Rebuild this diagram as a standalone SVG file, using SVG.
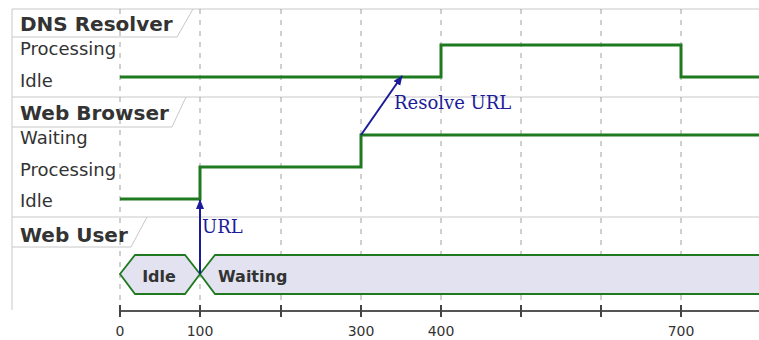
<svg xmlns="http://www.w3.org/2000/svg" width="759" height="340" viewBox="0 0 759 340">
<style>
.grid{stroke:#c8c8c8;stroke-width:1;fill:none}
.dash{stroke:#a0a0a0;stroke-width:1;stroke-dasharray:5,6;fill:none}
.hdr{font-family:"DejaVu Sans",sans-serif;font-weight:bold;font-size:20px;fill:#333}
.lbl{font-family:"DejaVu Sans",sans-serif;font-size:18px;fill:#333}
.sig{stroke:#1f7a1f;stroke-width:3;fill:none}
.hex{fill:#e2e2f0;stroke:#1f7a1f;stroke-width:1.8}
.hext{font-family:"DejaVu Sans",sans-serif;font-weight:bold;font-size:16px;fill:#333}
.msg{stroke:#1c1c99;stroke-width:2;fill:none}
.msgt{font-family:"DejaVu Serif",serif;font-size:18px;fill:#1c1c99}
.ax{font-family:"DejaVu Sans",sans-serif;font-size:14px;fill:#333}
</style>
<defs>
<marker id="ah" markerWidth="10" markerHeight="10" refX="9" refY="5" orient="auto" markerUnits="userSpaceOnUse">
<path d="M0,1 L10,5 L0,9 Z" fill="#1c1c99"/>
</marker>
</defs>
<g id="frame">
<line class="grid" x1="12" y1="9" x2="759" y2="9"/>
<line class="grid" x1="12" y1="97" x2="759" y2="97"/>
<line class="grid" x1="12" y1="217" x2="759" y2="217"/>
<line class="grid" x1="12" y1="9" x2="12" y2="310"/>
</g>
<g id="gridlines">
<line class="dash" x1="120" y1="9" x2="120" y2="305"/>
<line class="dash" x1="200" y1="9" x2="200" y2="305"/>
<line class="dash" x1="281" y1="9" x2="281" y2="305"/>
<line class="dash" x1="361" y1="9" x2="361" y2="305"/>
<line class="dash" x1="441" y1="9" x2="441" y2="305"/>
<line class="dash" x1="521" y1="9" x2="521" y2="305"/>
<line class="dash" x1="601" y1="9" x2="601" y2="305"/>
<line class="dash" x1="681" y1="9" x2="681" y2="305"/>
</g>
<g id="dns-resolver">
<polyline class="grid" points="12,37 177,37 193,9"/>
<text class="hdr" x="20" y="31">DNS Resolver</text>
<text class="lbl" x="20" y="55">Processing</text>
<text class="lbl" x="20" y="87">Idle</text>
<polyline class="sig" points="120,77 441,77 441,45 681,45 681,77 759,77"/>
</g>
<g id="web-browser">
<polyline class="grid" points="12,127 172,127 186,97"/>
<text class="hdr" x="20" y="120">Web Browser</text>
<text class="lbl" x="20" y="144">Waiting</text>
<text class="lbl" x="20" y="176">Processing</text>
<text class="lbl" x="20" y="207">Idle</text>
<polyline class="sig" points="120,199 200,199 200,167 361,167 361,135 759,135"/>
</g>
<g id="web-user">
<polyline class="grid" points="12,247 131,247 147,217"/>
<text class="hdr" x="20" y="242">Web User</text>
<polygon class="hex" points="120,274 135,255 185,255 200,274 185,294 135,294"/>
<text class="hext" x="159" y="282" text-anchor="middle">Idle</text>
<polygon class="hex" points="200,274 215,255 762,255 762,294 215,294"/>
<text class="hext" x="218" y="282">Waiting</text>
</g>
<g id="connectors">
<line class="msg" x1="200" y1="274" x2="200" y2="200" marker-end="url(#ah)"/>
<text class="msgt" x="202" y="233">URL</text>
<line class="msg" x1="361" y1="135" x2="402" y2="76" marker-end="url(#ah)"/>
<text class="msgt" x="394" y="109">Resolve URL</text>
</g>
<g id="axis">
<line x1="120" y1="311" x2="759" y2="311" stroke="#555" stroke-width="2"/>
<g stroke="#444" stroke-width="2">
<line x1="120" y1="305" x2="120" y2="317"/>
<line x1="200" y1="305" x2="200" y2="317"/>
<line x1="281" y1="305" x2="281" y2="317"/>
<line x1="361" y1="305" x2="361" y2="317"/>
<line x1="441" y1="305" x2="441" y2="317"/>
<line x1="521" y1="305" x2="521" y2="317"/>
<line x1="601" y1="305" x2="601" y2="317"/>
<line x1="681" y1="305" x2="681" y2="317"/>
</g>
<text class="ax" x="120" y="336" text-anchor="middle">0</text>
<text class="ax" x="200" y="336" text-anchor="middle">100</text>
<text class="ax" x="361" y="336" text-anchor="middle">300</text>
<text class="ax" x="441" y="336" text-anchor="middle">400</text>
<text class="ax" x="681" y="336" text-anchor="middle">700</text>
</g>
</svg>
